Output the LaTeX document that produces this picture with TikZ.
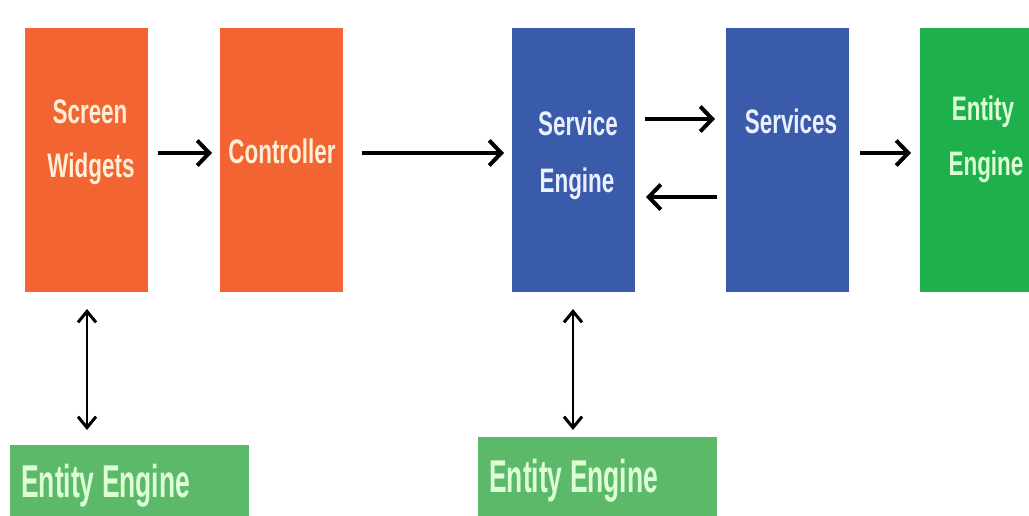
\documentclass[tikz,border=0pt]{standalone}
\usepackage{fontspec}
\setmainfont{Liberation Sans}
\newfontfamily\boxfont[FakeStretch=0.66]{Liberation Sans}
\newfontfamily\lowfont[FakeStretch=0.575]{Liberation Sans}
\usetikzlibrary{arrows.meta}
\definecolor{orangebox}{HTML}{F26532}
\definecolor{bluebox}{HTML}{3A5AAA}
\definecolor{greenbox}{HTML}{1EB14B}
\definecolor{greenlow}{HTML}{5DB96A}
\definecolor{creamtxt}{HTML}{FFEFD6}
\definecolor{bluetxt}{HTML}{EAF0FF}
\definecolor{greentxt}{HTML}{DCFFD6}
\begin{document}
\begin{tikzpicture}[x=1pt,y=-1pt,
  box/.style={minimum width=123pt,minimum height=264pt,inner sep=0pt,anchor=north west},
  obox/.style={box,fill=orangebox},
  bbox/.style={box,fill=bluebox},
  gbox/.style={box,fill=greenbox},
  lowbox/.style={fill=greenlow,minimum width=239pt,minimum height=80pt,inner sep=0pt,anchor=north west},
  btxt/.style={font=\boxfont\bfseries\fontsize{34}{40}\selectfont,anchor=base,inner sep=0pt},
  ltxt/.style={font=\lowfont\bfseries\fontsize{46}{52}\selectfont,text=greentxt,anchor=base west,inner sep=0pt},
  flow/.style={line width=4pt,-{Straight Barb[length=12pt,width=25pt,line width=4pt]}},
  both/.style={line width=2pt,{Straight Barb[length=11pt,width=18pt,line width=3pt]}-{Straight Barb[length=11pt,width=18pt,line width=3pt]}}
]
\useasboundingbox (0,0) rectangle (1029,515);
\fill[white] (0,0) rectangle (1029,515);
\begin{scope}
\clip (0,0) rectangle (1029,515);
\node[obox] (sw) at (25,28) {};
\node[obox] (ctl) at (220,28) {};
\node[bbox] (se) at (512,28) {};
\node[bbox] (svc) at (726,28) {};
\node[gbox] (ent) at (920,28) {};
\node[lowbox] (low1) at (10,445) {};
\node[lowbox] (low2) at (478,437) {};
\end{scope}
% texts
\node[btxt,text=creamtxt] (sw1) at (90,123) {Screen};
\node[btxt,text=creamtxt] (sw2) at (91,177) {Widgets};
\node[btxt,text=creamtxt] (ctlt) at (282,163) {Controller};
\node[btxt,text=bluetxt] (se1) at (578,135) {Service};
\node[btxt,text=bluetxt] (se2) at (577,192) {Engine};
\node[btxt,text=bluetxt] (svct) at (791,133) {Services};
\node[btxt,text=greentxt] (ent1) at (983,120) {Entity};
\node[btxt,text=greentxt] (ent2) at (986,175) {Engine};
\node[ltxt] (low1t) at (21,497) {Entity Engine};
\node[ltxt] (low2t) at (489,492) {Entity Engine};
% arrows
\coordinate (a1s) at (158,153); \coordinate (a1e) at (212,153);
\draw[flow] (a1s) -- (a1e);
\coordinate (a2s) at (362,153); \coordinate (a2e) at (504,153);
\draw[flow] (a2s) -- (a2e);
\coordinate (a3s) at (645,119); \coordinate (a3e) at (715,119);
\draw[flow] (a3s) -- (a3e);
\coordinate (a4s) at (717,197); \coordinate (a4e) at (646,197);
\draw[flow] (a4s) -- (a4e);
\coordinate (a5s) at (860,153); \coordinate (a5e) at (911,153);
\draw[flow] (a5s) -- (a5e);
\coordinate (v1s) at (87,309); \coordinate (v1e) at (87,430);
\draw[both] (v1s) -- (v1e);
\coordinate (v2s) at (573,309); \coordinate (v2e) at (573,430);
\draw[both] (v2s) -- (v2e);
\end{tikzpicture}
\end{document}
